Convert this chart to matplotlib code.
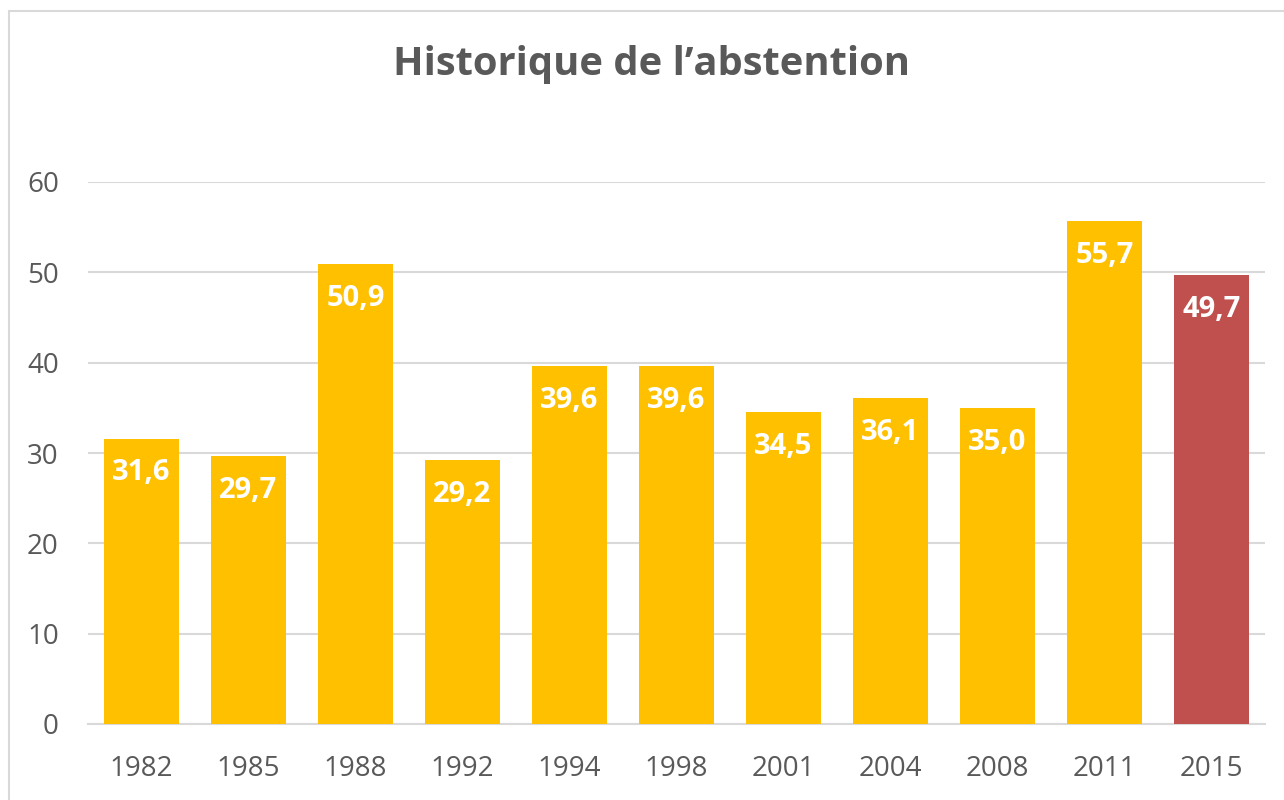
import matplotlib
matplotlib.use("Agg")
import matplotlib.pyplot as plt
from matplotlib.patches import Rectangle

years = ["1982", "1985", "1988", "1992", "1994", "1998", "2001", "2004", "2008", "2011", "2015"]
values = [31.6, 29.7, 50.9, 29.2, 39.6, 39.6, 34.5, 36.1, 35.0, 55.7, 49.7]
colors = ["#FFC000"] * 10 + ["#C0504D"]
title = "Historique de l\u2019abstention"

plt.rcParams['font.family'] = ['Open Sans', 'DejaVu Sans']

fig = plt.figure(figsize=(12.84, 8), dpi=100)
W, H = 1284, 800
# chart border (cropped at right/bottom)
fig.patches.append(Rectangle((9 / W, -0.1), 1.2, 1 - 11 / H + 0.1, transform=fig.transFigure,
                             fill=False, edgecolor="#D9D9D9", linewidth=1.5))

left, right = 88 / W, 1265 / W
bottom, top = 1 - 724 / H, 1 - 182 / H
ax = fig.add_axes([left, bottom, right - left, top - bottom])

x = range(len(years))
bars = ax.bar(x, values, width=0.71, color=colors, zorder=3)
ax.set_xlim(-0.5, len(years) - 0.5)
ax.set_ylim(0, 60)
ax.set_yticks(range(0, 61, 10))
ax.set_xticks(list(x))
ax.set_xticklabels(years)
ax.grid(axis="y", color="#D9D9D9", linewidth=1.5, zorder=0)
for s in ["top", "right", "left"]:
    ax.spines[s].set_visible(False)
ax.spines["bottom"].set_color("#D9D9D9")
ax.spines["bottom"].set_linewidth(1.5)
ax.tick_params(axis="both", length=0, labelsize=20, labelcolor="#595959")
ax.tick_params(axis="y", pad=21)
ax.tick_params(axis="x", pad=22)

for xi, v in zip(x, values):
    ax.text(xi, v - 3.8, f"{v:.1f}".replace(".", ","), ha="center", va="center",
            color="white", fontsize=21, fontweight="bold", zorder=4)

fig.text(652 / W, 1 - 65 / H, title, ha="center", va="center", fontsize=28.7,
         fontweight="bold", color="#595959")

fig.savefig("out.png", dpi=100)
